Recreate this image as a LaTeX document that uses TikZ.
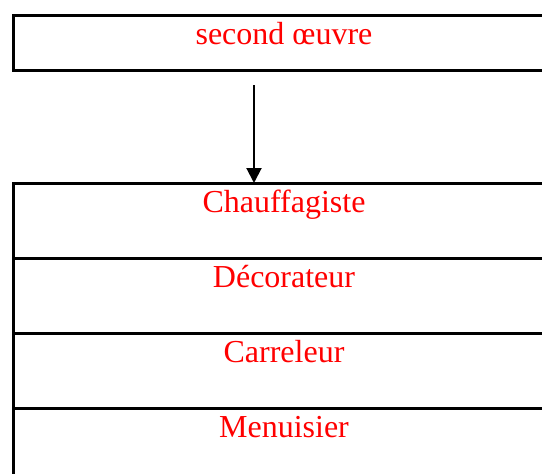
\documentclass[tikz,border=0pt]{standalone}
\usepackage{fontspec}
\setmainfont{Liberation Serif}
\usetikzlibrary{arrows.meta,positioning}

\begin{document}
\begin{tikzpicture}[
    x=1pt, y=-1pt,
    node distance=0pt,
    every node/.style={font=\fontsize{32pt}{36pt}\selectfont, text=red, align=center},
    cell/.style={rectangle, draw=black, line width=3pt, outer sep=0pt, inner ysep=0pt,
        minimum width=542pt, text height=29pt, text depth=46pt},
    arrow/.style={-{Triangle[length=15pt,width=15pt]}, draw=black, line width=2pt}
]
    \clip (0,0) rectangle (542,474);

    \node (oeuvre) [cell, text depth=26pt, anchor=north] at (284,15) {second œuvre};
    \node (chauf) [cell, below=113pt of oeuvre] {Chauffagiste};
    \node (deco) [cell, below=of chauf] {Décorateur};
    \node (carr) [cell, below=of deco] {Carreleur};
    \node (menu) [cell, below=of carr] {Menuisier};

    \coordinate (start) at (254,85);
    \draw [arrow] (start) -- (start |- chauf.north);
\end{tikzpicture}
\end{document}
